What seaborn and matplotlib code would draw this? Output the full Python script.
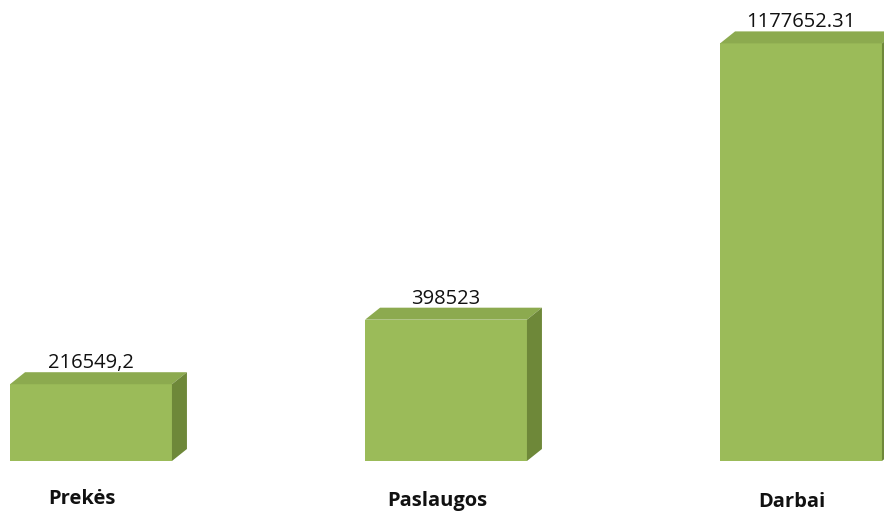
import matplotlib
matplotlib.use("Agg")
import matplotlib.pyplot as plt
import seaborn as sns
import pandas as pd
from matplotlib.patches import Polygon

categories = ["Prekės", "Paslaugos", "Darbai"]
values = [216549.2, 398523, 1177652.31]
value_labels = ["216549,2", "398523", "1177652.31"]

front_color = "#9BBB59"
top_color = "#8CAA4F"
side_color = "#6E8839"

sns.set_theme(style="white")
plt.rcParams["font.family"] = ["Open Sans", "DejaVu Sans"]

df = pd.DataFrame({"cat": categories, "val": values})

fig = plt.figure(figsize=(8.84, 5.13), dpi=100)
ax = fig.add_axes([0, 0, 1, 1])
sns.barplot(data=df, x="cat", y="val", color=front_color, width=0.456,
            saturation=1, ax=ax, edgecolor="none")

px_x = 355.0      # pixels per category unit
px_y = 2820.0     # value per pixel
base = 461
ax.set_xlim(-91 / px_x, (884 - 91) / px_x)
ax.set_ylim(-(513 - base) * px_y, base * px_y)

dx = 15 / px_x
dy = 12 * px_y

for p, lab in zip(ax.patches, value_labels):
    x0 = p.get_x()
    w = p.get_width()
    h = p.get_height()
    x1 = x0 + w
    top = Polygon([(x0, h), (x1, h), (x1 + dx, h + dy), (x0 + dx, h + dy)],
                  closed=True, facecolor=top_color, edgecolor="none")
    side = Polygon([(x1, 0), (x1 + dx, dy), (x1 + dx, h + dy), (x1, h)],
                   closed=True, facecolor=side_color, edgecolor="none")
    ax.add_patch(top)
    ax.add_patch(side)
    ax.text(x0 + w / 2, h + dy - 1 * px_y, lab, ha="center", va="bottom",
            fontsize=14.5, color="#111111")

label_off = [38, 40, 41]
for i, c in enumerate(categories):
    ax.text(i - 0.025, -label_off[i] * px_y, c, ha="center", va="center",
            fontsize=14.5, fontweight="bold", color="#111111")

ax.set_axis_off()
fig.savefig("out.png", dpi=100)
